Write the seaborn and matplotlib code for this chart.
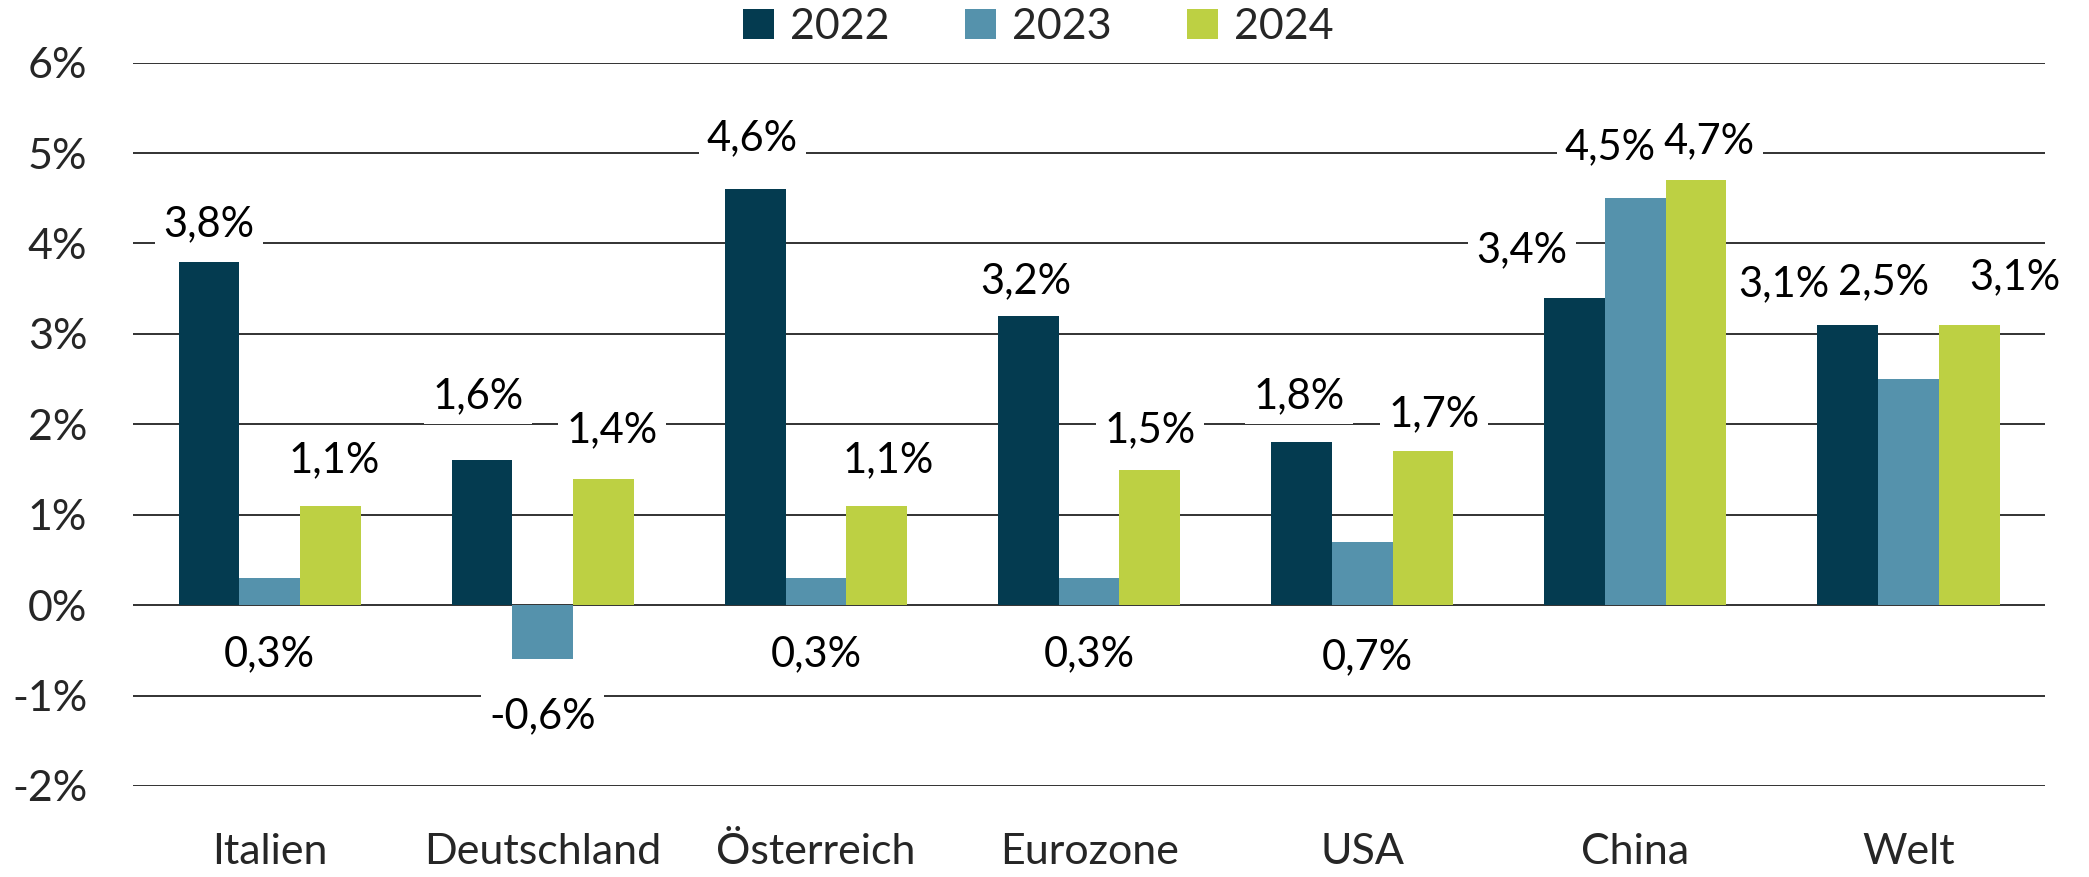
import matplotlib
matplotlib.use("Agg")
import matplotlib.pyplot as plt
import seaborn as sns
import pandas as pd
import numpy as np

categories = ["Italien", "Deutschland", "Österreich", "Eurozone", "USA", "China", "Welt"]
years = ["2022", "2023", "2024"]
values_2022 = [3.8, 1.6, 4.6, 3.2, 1.8, 3.4, 3.1]
values_2023 = [0.3, -0.6, 0.3, 0.3, 0.7, 4.5, 2.5]
values_2024 = [1.1, 1.4, 1.1, 1.5, 1.7, 4.7, 3.1]
y_ticks = [-2, -1, 0, 1, 2, 3, 4, 5, 6]
colors = ["#043B50", "#5592AC", "#BDD043"]

# label offsets (points) relative to bar end, per year
label_offsets_2022 = [(0, 27), (-3, 46), (-2, 37), (-2, 25), (-2, 33), (-38, 34), (-46, 29)]
label_offsets_2023 = [(0, -55), (0, -41), (0, -55), (0, -55), (4, -83), (-18, 37), (-18, 70)]
label_offsets_2024 = [(3, 33), (6, 35), (8, 33), (0, 28), (8, 27), (9, 28), (33, 34)]

FS = 31
FS_LABEL = 30

sns.set_style("white")
plt.rcParams["font.family"] = ["Lato", "DejaVu Sans"]

rows = []
for yr, vals in zip(years, [values_2022, values_2023, values_2024]):
    for c, v in zip(categories, vals):
        rows.append({"Land": c, "Jahr": yr, "Wert": v})
df = pd.DataFrame(rows)

fig = plt.figure(figsize=(20.89, 8.77), dpi=100)
ax = fig.add_axes([0.0637, 0.1038, 0.9153, 0.8248])

sns.barplot(data=df, x="Land", y="Wert", hue="Jahr", order=categories, hue_order=years,
            palette=colors, width=0.667, saturation=1, ax=ax, zorder=3, legend=True,
            linewidth=0)

ax.set_ylim(-2, 6)
ax.set_xlim(-0.5, len(categories) - 0.5)
ax.set_yticks(y_ticks)
ax.set_yticklabels([f"{t}%" for t in y_ticks])
ax.yaxis.grid(True, color="#222222", linewidth=1.3, zorder=0)
ax.set_axisbelow(True)
for s in ax.spines.values():
    s.set_visible(False)
ax.tick_params(axis="y", length=0, pad=33, labelsize=FS)
ax.tick_params(axis="x", length=0, pad=34, labelsize=FS)
ax.set_xlabel("")
ax.set_ylabel("")

all_offsets = [label_offsets_2022, label_offsets_2023, label_offsets_2024]
for cont, offs in zip(ax.containers, all_offsets):
    for bar, (dx, dy) in zip(cont, offs):
        h = bar.get_height()
        y = bar.get_y() + h
        x = bar.get_x() + bar.get_width() / 2
        txt = f"{h:.1f}%".replace(".", ",")
        # white background box (drawn below all label texts)
        ax.annotate(txt, (x, y), xytext=(dx, dy), textcoords="offset points",
                    ha="center", va="center", fontsize=FS_LABEL, zorder=4, color="none",
                    bbox=dict(boxstyle="square,pad=0.2", fc="white", ec="none"))
        ax.annotate(txt, (x, y), xytext=(dx, dy), textcoords="offset points",
                    ha="center", va="center", fontsize=FS_LABEL, zorder=6, color="black")

leg = ax.legend(loc="center", bbox_to_anchor=(0.497, 0.969), bbox_transform=fig.transFigure,
                ncol=3, frameon=False, fontsize=FS, handlelength=0.72, handleheight=0.72,
                handletextpad=0.37, columnspacing=1.75)

fig.savefig("out.png", dpi=100)
